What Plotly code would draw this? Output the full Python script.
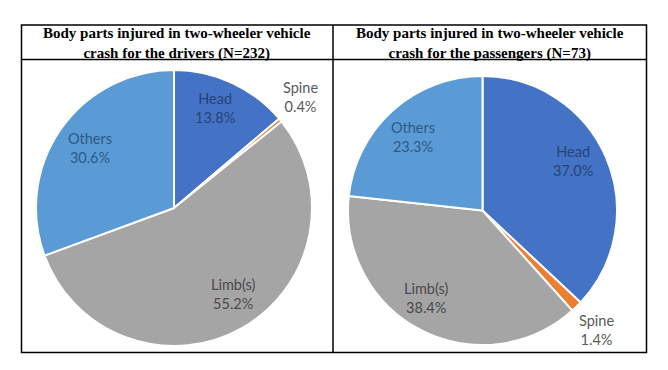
import plotly.graph_objects as go

W, H = 668, 370

categories = ["Head", "Spine", "Limb(s)", "Others"]
drivers = [32, 1, 128, 71]        # N=232
passengers = [27, 1, 28, 17]      # N=73
titles = [
    "Body parts injured in two-wheeler vehicle<br>crash for the drivers (N=232)",
    "Body parts injured in two-wheeler vehicle<br>crash for the passengers (N=73)",
]

slice_colors = ["#4472C4", "#ED7D31", "#A5A5A5", "#5B9BD5"]
text_colors = ["#26447A", "#595959", "#4A4A4A", "#2C5A87"]

# label anchor positions (pixels) per pie, per category
label_pos = [
    [(215, 107.5), (300, 97), (233, 294), (90, 147.5)],
    [(573, 160.5), (596, 329.5), (426, 297.5), (413, 136.5)],
]


def px_x(v):
    return v / W


def px_y(v):
    return 1 - v / H


fig = go.Figure()

pies = [
    (drivers, (36, 312), (70, 346)),
    (passengers, (348, 617), (76, 345)),
]
for k, (vals, (x0, x1), (y0, y1)) in enumerate(pies):
    fig.add_trace(go.Pie(
        labels=categories,
        values=vals,
        sort=False,
        direction="clockwise",
        rotation=0,
        marker=dict(colors=slice_colors, line=dict(color="white", width=2)),
        textinfo="none",
        showlegend=False,
        hoverinfo="label+percent",
        domain=dict(x=[px_x(x0), px_x(x1)], y=[px_y(y1), px_y(y0)]),
    ))
    total = sum(vals)
    for cat, v, col, (lx, ly) in zip(categories, vals, text_colors, label_pos[k]):
        fig.add_annotation(
            text=f"{cat}<br>{v / total * 100:.1f}%",
            xref="paper", yref="paper", x=px_x(lx), y=px_y(ly),
            xanchor="center", yanchor="middle", showarrow=False, align="center",
            font=dict(family="Lato, Noto Sans, sans-serif", size=14.5, color=col),
        )

# table borders
line = dict(color="black", width=1.5)
fig.add_shape(type="rect", xref="paper", yref="paper",
              x0=px_x(21.5), x1=px_x(646.5), y0=px_y(352.5), y1=px_y(25), line=line)
fig.add_shape(type="line", xref="paper", yref="paper",
              x0=px_x(21.5), x1=px_x(646.5), y0=px_y(59.5), y1=px_y(59.5), line=line)
fig.add_shape(type="line", xref="paper", yref="paper",
              x0=px_x(333), x1=px_x(333), y0=px_y(25), y1=px_y(352.5), line=line)

for t, cx in zip(titles, [177, 490]):
    fig.add_annotation(text="<b>" + t + "</b>", xref="paper", yref="paper",
                       x=px_x(cx), y=px_y(43), xanchor="center", yanchor="middle",
                       showarrow=False,
                       font=dict(family="Liberation Serif, Times New Roman, serif", size=15, color="black"))

fig.update_layout(
    width=W, height=H,
    margin=dict(l=0, r=0, t=0, b=0),
    paper_bgcolor="white",
    plot_bgcolor="white",
)

fig.write_html("out.html",
               config={"displayModeBar": False},
               post_script="document.body.style.margin='0px';document.body.style.overflow='hidden';")
